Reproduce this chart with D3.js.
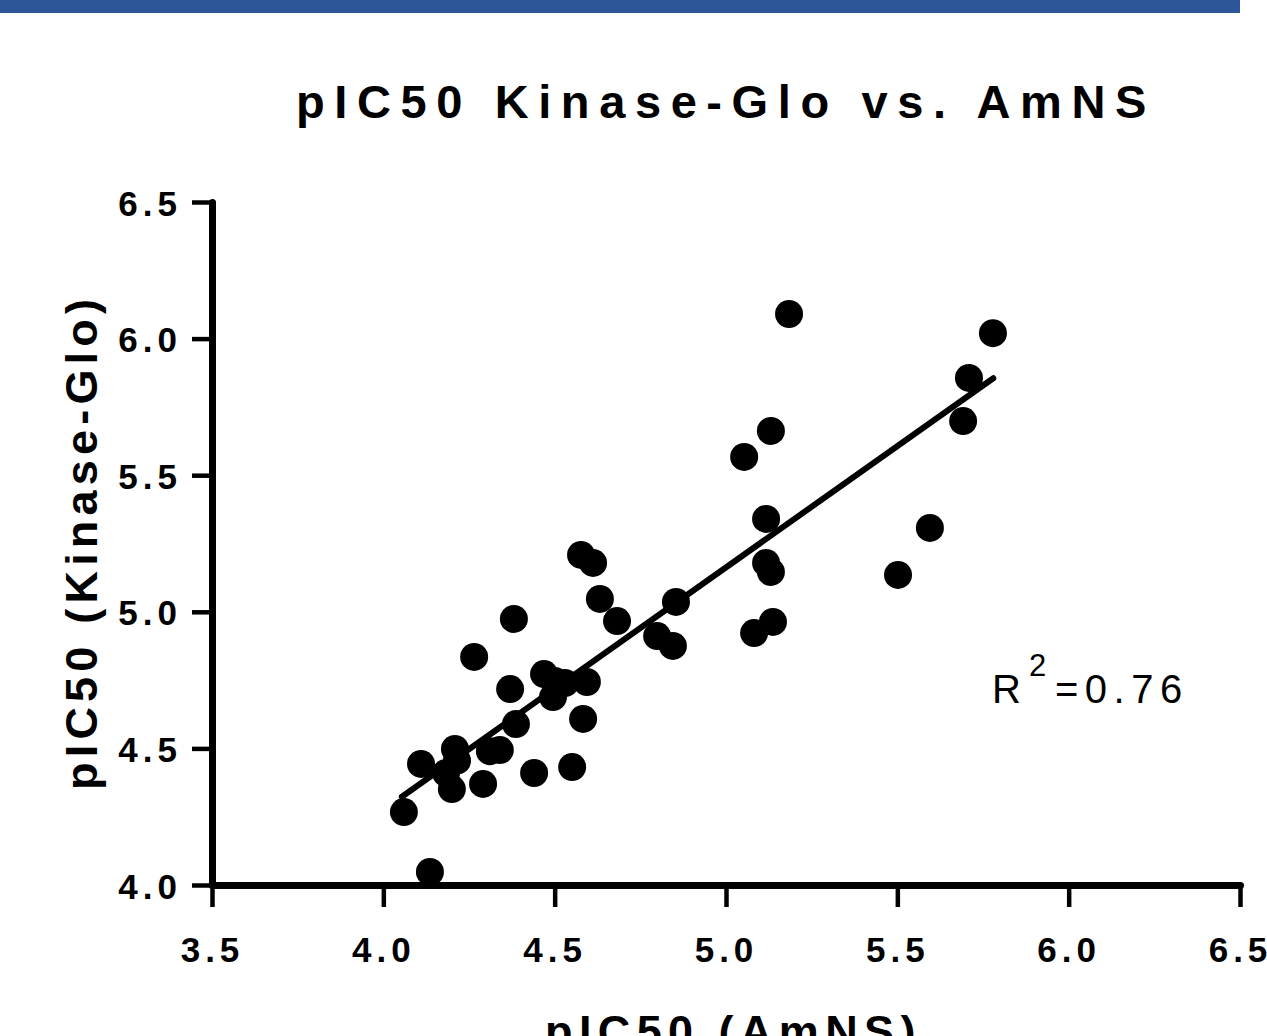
<!DOCTYPE html>
<html>
<head>
<meta charset="utf-8">
<script src="https://cdn.jsdelivr.net/npm/d3@7"></script>
<style>
  body { margin: 0; background: #fff; }
  svg { display: block; font-family: "Liberation Sans", Arial, sans-serif; }
</style>
</head>
<body>
<svg width="1267" height="1036"></svg>
<script>
// pIC50 values
var amns = [5.184, 5.779, 5.709, 5.692, 5.131, 5.053, 5.117, 5.595, 5.117, 5.131,
            5.502, 4.577, 4.612, 4.632, 4.682, 4.854, 4.799, 4.845, 5.137, 5.082,
            4.381, 4.265, 4.370, 4.469, 4.500, 4.530, 4.594, 4.495, 4.583, 4.387,
            4.209, 4.215, 4.110, 4.183, 4.200, 4.311, 4.340, 4.291, 4.440, 4.551,
            4.060, 4.136];
var kinase = [6.090, 6.020, 5.856, 5.698, 5.662, 5.567, 5.340, 5.307, 5.179, 5.146,
              5.135, 5.208, 5.179, 5.047, 4.966, 5.036, 4.911, 4.875, 4.963, 4.922,
              4.974, 4.835, 4.717, 4.772, 4.747, 4.739, 4.743, 4.688, 4.608, 4.589,
              4.498, 4.455, 4.443, 4.410, 4.351, 4.490, 4.494, 4.370, 4.410, 4.432,
              4.267, 4.048];
// regression line end points
var fitX = [4.054, 5.780];
var fitY = [4.323, 5.855];
var tickVals = [3.5, 4.0, 4.5, 5.0, 5.5, 6.0, 6.5];
var yTickVals = [4.0, 4.5, 5.0, 5.5, 6.0, 6.5];

var svg = d3.select("svg");

// blue band at the top
svg.append("rect")
  .attr("x", 0).attr("y", 0)
  .attr("width", 1240).attr("height", 13)
  .attr("fill", "#2d5699");

var x = d3.scaleLinear().domain([3.5, 6.5]).range([212, 1240]);
var y = d3.scaleLinear().domain([4.0, 6.5]).range([885, 202]);

// x axis
var gx = svg.append("g")
  .attr("transform", "translate(0,885)")
  .call(d3.axisBottom(x).tickValues(tickVals).tickSize(22).tickSizeOuter(0)
        .tickFormat(d3.format(".1f")));

// y axis
var gy = svg.append("g")
  .attr("transform", "translate(212,0)")
  .call(d3.axisLeft(y).tickValues(yTickVals).tickSize(20).tickSizeOuter(0)
        .tickFormat(d3.format(".1f")));

[gx, gy].forEach(function(g) {
  g.select(".domain").attr("stroke", "#000").attr("stroke-width", 7)
    .attr("stroke-linecap", "round");
  g.selectAll(".tick line").attr("stroke", "#000").attr("stroke-width", 4.5);
  g.selectAll(".tick text")
    .attr("fill", "#000")
    .style("font-family", "'Liberation Sans', Arial, sans-serif")
    .style("font-size", "35px")
    .style("font-weight", "bold")
    .style("letter-spacing", "5px");
});
gx.selectAll(".tick text").attr("y", 77).attr("dy", 0);
gy.selectAll(".tick text").attr("x", -30).attr("dy", 0).attr("y", 13);

// fit line
svg.append("line")
  .attr("x1", x(fitX[0])).attr("y1", y(fitY[0]))
  .attr("x2", x(fitX[1])).attr("y2", y(fitY[1]))
  .attr("stroke", "#000")
  .attr("stroke-width", 6)
  .attr("stroke-linecap", "round");

// points
svg.append("g")
  .selectAll("circle")
  .data(amns)
  .enter()
  .append("circle")
  .attr("cx", function(d) { return x(d); })
  .attr("cy", function(d, i) { return y(kinase[i]); })
  .attr("r", 14)
  .attr("fill", "#000");

// title
svg.append("text")
  .text("pIC50 Kinase-Glo vs. AmNS")
  .attr("x", 296).attr("y", 118)
  .style("font-size", "47px")
  .style("font-weight", "bold")
  .style("letter-spacing", "9.6px");

// y label
svg.append("text")
  .text("pIC50 (Kinase-Glo)")
  .attr("transform", "translate(97,790) rotate(-90)")
  .style("font-size", "45px")
  .style("font-weight", "bold")
  .style("letter-spacing", "5.2px");

// x label
svg.append("text")
  .text("pIC50 (AmNS)")
  .attr("x", 545).attr("y", 1047)
  .style("font-size", "45px")
  .style("font-weight", "bold")
  .style("letter-spacing", "6.4px");

// R squared
svg.append("text").text("R")
  .attr("x", 992).attr("y", 703)
  .style("font-size", "40px");
svg.append("text").text("2")
  .attr("x", 1029).attr("y", 676)
  .style("font-size", "31px");
svg.append("text").text("=0.76")
  .attr("x", 1055).attr("y", 703)
  .style("font-size", "40px")
  .style("letter-spacing", "6.5px");
</script>
</body>
</html>
